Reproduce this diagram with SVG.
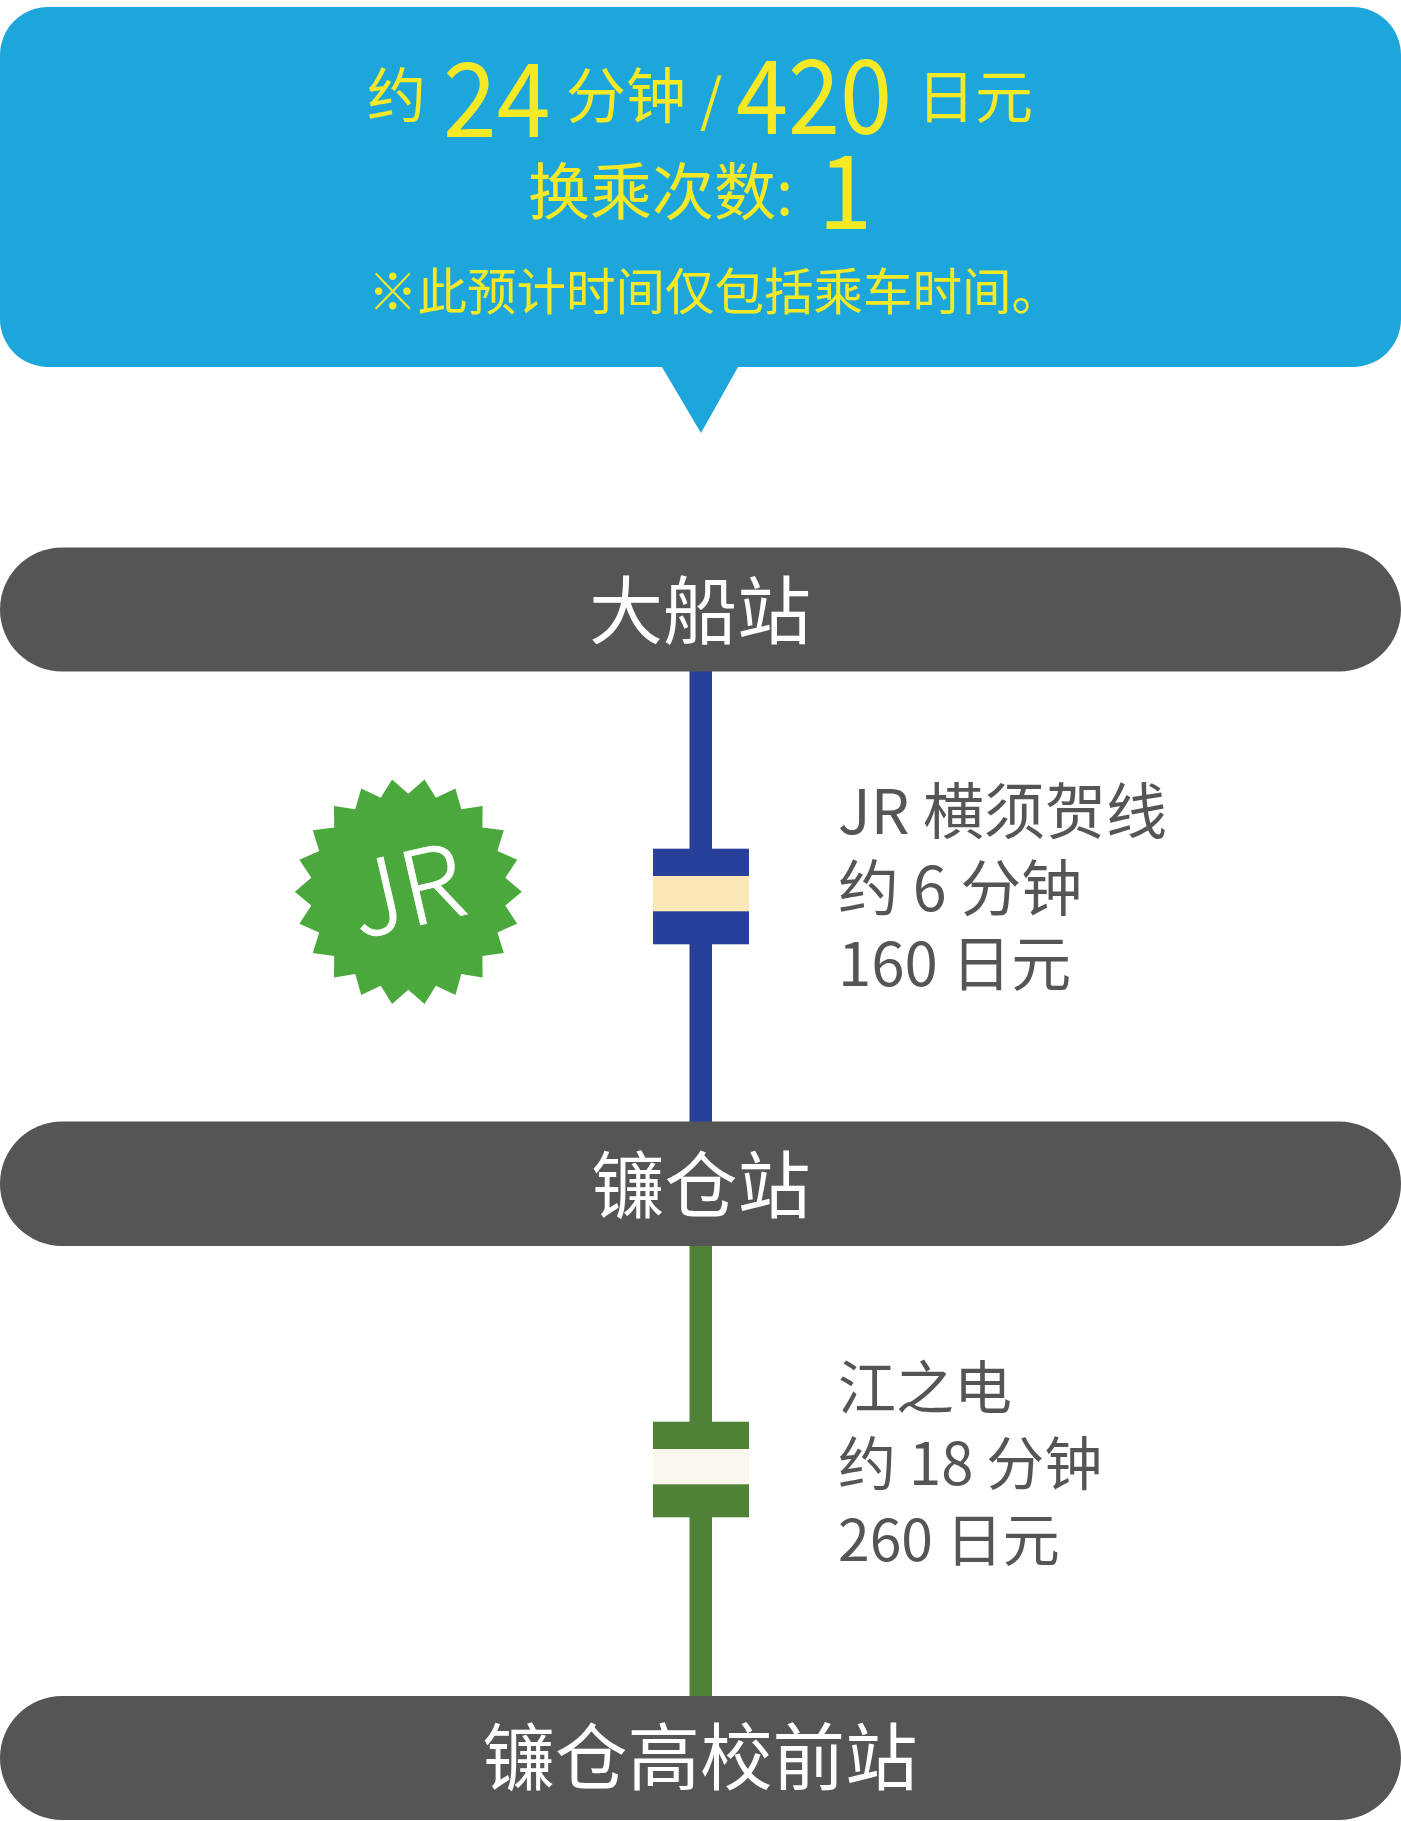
<svg xmlns="http://www.w3.org/2000/svg" width="1401" height="1821" viewBox="0 0 1401 1821">
<style>
text{font-family:"Noto Sans CJK SC","Noto Sans",sans-serif}
.y{fill:#f5e926}
.p{fill:#555555}
.w{fill:#ffffff;text-anchor:middle}
.g{fill:#555555;font-size:61px}
.h{fill:#555555;font-size:58px}
.c{text-anchor:middle}
</style>
<rect width="1401" height="1821" fill="#ffffff"/>
<g id="connectors">
<rect x="689.5" y="671" width="22.5" height="452" fill="#27409a"/>
<rect x="689.5" y="1245" width="22.5" height="452" fill="#4f8236"/>
</g>
<g id="bubble">
<path fill="#1ca6db" d="M48 7H1353a48 48 0 0 1 48 48V319a48 48 0 0 1-48 48H738L701 433L662 367H48a48 48 0 0 1-48-48V55a48 48 0 0 1 48-48Z"/>
<text class="y" x="367" y="117" font-size="59">约</text>
<text class="y" transform="translate(443 137) scale(.94 1)" font-size="103">24</text>
<text class="y" x="566" y="118" font-size="60">分钟</text>
<text class="y" x="700" y="121" font-size="57">/</text>
<text class="y" transform="translate(736 134) scale(.91 1)" font-size="103">420</text>
<text class="y" x="917" y="118" font-size="58">日元</text>
<text class="y" x="528" y="215" font-size="62">换乘次数:</text>
<text class="y" transform="translate(818 229) scale(.95 1)" font-size="103">1</text>
<text class="y" x="368" y="310" font-size="49.5">※此预计时间仅包括乘车时间。</text>
</g>
<g id="station-ofuna"><rect y="547.5" width="1401" height="124" rx="62" class="p"/><text class="w" x="700" y="638" font-size="74">大船站</text></g>
<g id="station-kamakura"><rect y="1121.5" width="1401" height="124.5" rx="62" class="p"/><text class="w" x="701" y="1212" font-size="73">镰仓站</text></g>
<g id="station-koko"><rect y="1696" width="1401" height="124" rx="62" class="p"/><text class="w" x="700" y="1784" font-size="72.5">镰仓高校前站</text></g>
<g id="jr-train">
<rect x="653" y="848.7" width="96" height="95.6" fill="#27409a"/>
<rect x="653" y="876" width="96" height="35.3" fill="#fce8b6"/>
</g>
<g id="enoden-train">
<rect x="653" y="1421.7" width="96" height="95.6" fill="#4f8236"/>
<rect x="653" y="1449" width="96" height="35.3" fill="#fbf7ec"/>
</g>
<g id="jr-badge">
<polygon fill="#4aa83c" transform="translate(408.3 891.7)" points="113.5,0 97,13.9 108.9,32 89.1,40.7 95.5,61.4 74.1,64.2 74.3,85.8 53,82.4 47.1,103.2 27.6,94 16.2,112.3 0,98 -16.2,112.3 -27.6,94 -47.1,103.2 -53,82.4 -74.3,85.8 -74.1,64.2 -95.5,61.4 -89.1,40.7 -108.9,32 -97,13.9 -113.5,0 -97,-13.9 -108.9,-32 -89.1,-40.7 -95.5,-61.4 -74.1,-64.2 -74.3,-85.8 -53,-82.4 -47.1,-103.2 -27.6,-94 -16.2,-112.3 0,-98 16.2,-112.3 27.6,-94 47.1,-103.2 53,-82.4 74.3,-85.8 74.1,-64.2 95.5,-61.4 89.1,-40.7 108.9,-32 97,-13.9"/>
<text x="407" y="927" font-size="102" font-weight="300" fill="#ffffff" stroke="#ffffff" stroke-width=".8" class="c" transform="rotate(-13 407 893)">JR</text>
</g>
<g id="jr-info">
<text class="g" x="838" y="834">JR 横须贺线</text>
<text class="g" x="838" y="911">约 6 分钟</text>
<text class="g" x="838" y="986" style="font-size:60px">160 日元</text>
</g>
<g id="enoden-info">
<text class="h" x="838" y="1409">江之电</text>
<text class="h" x="838" y="1485">约 18 分钟</text>
<text class="h" x="838" y="1561" style="font-size:57px">260 日元</text>
</g>
</svg>
